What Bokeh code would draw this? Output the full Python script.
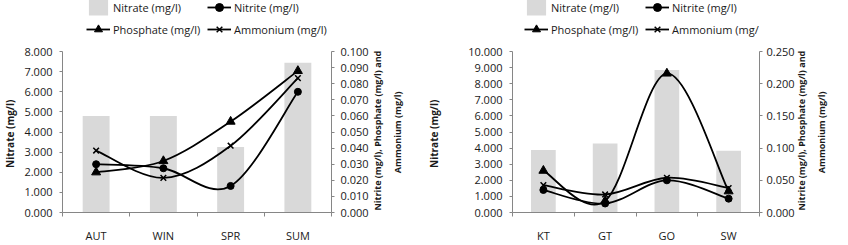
import numpy as np
from bokeh.plotting import figure
from bokeh.models import (Range1d, LinearAxis, FixedTicker, NumeralTickFormatter,
                          Legend, LegendItem, ColumnDataSource)
from bokeh.layouts import row
from bokeh.embed import file_html
from bokeh.resources import INLINE

# ---- data ----
seasons = ["AUT", "WIN", "SPR", "SUM"]
season_nitrate = [4.80, 4.80, 3.25, 7.45]
season_nitrite = [0.030, 0.0275, 0.0165, 0.075]
season_phosphate = [0.025, 0.032, 0.0565, 0.088]
season_ammonium = [0.0385, 0.0215, 0.0415, 0.0835]

sites = ["KT", "GT", "GO", "SW"]
site_nitrate = [3.88, 4.28, 8.85, 3.83]
site_nitrite = [0.035, 0.014, 0.050, 0.0215]
site_phosphate = [0.065, 0.018, 0.216, 0.033]
site_ammonium = [0.0425, 0.028, 0.054, 0.038]

FONT = "Open Sans"
TXT = "#1a1a1a"
AX = "#868686"
BAR = "#d9d9d9"
NB = "\u00a0"

PLOT_H = 245
BOTTOM = 25
AXIS_TOP = 53


def smooth_bezier(xs, ys):
    """Excel-like smoothed line: Catmull-Rom segments as cubic Beziers."""
    xs = list(xs); ys = list(ys)
    n = len(xs)
    d = dict(x0=[], y0=[], x1=[], y1=[], cx0=[], cy0=[], cx1=[], cy1=[])
    for i in range(n - 1):
        xp, yp = (xs[i - 1], ys[i - 1]) if i > 0 else (xs[i], ys[i])
        xn, yn = (xs[i + 2], ys[i + 2]) if i + 2 < n else (xs[i + 1], ys[i + 1])
        d["x0"].append(xs[i]); d["y0"].append(ys[i])
        d["x1"].append(xs[i + 1]); d["y1"].append(ys[i + 1])
        d["cx0"].append(xs[i] + (xs[i + 1] - xp) / 6)
        d["cy0"].append(ys[i] + (ys[i + 1] - yp) / 6)
        d["cx1"].append(xs[i + 1] - (xn - xs[i]) / 6)
        d["cy1"].append(ys[i + 1] - (yn - ys[i]) / 6)
    return ColumnDataSource(d)


def make_chart(cats, nitrate, nitrite, phosphate, ammonium, ymax_left, ymax_right,
               step_left, step_right, border_left, border_right, left_title_standoff,
               legend_x, right_label_standoff, title_standoff):
    frame_h = PLOT_H - BOTTOM
    axis_h = frame_h - AXIS_TOP
    stretch = frame_h / axis_h
    p = figure(width=424, height=PLOT_H, output_backend="svg", toolbar_location=None,
               x_range=Range1d(0.5, len(cats) + 0.5),
               y_range=Range1d(0, ymax_left * stretch),
               min_border_left=border_left, min_border_right=border_right,
               min_border_top=0, min_border_bottom=BOTTOM)
    p.outline_line_color = None
    p.xgrid.visible = False
    p.ygrid.visible = False
    p.background_fill_color = "white"
    p.border_fill_color = "white"
    p.extra_y_ranges = {"right": Range1d(0, ymax_right * stretch)}

    xs = list(range(1, len(cats) + 1))

    bars = p.vbar(x=xs, top=nitrate, width=0.4, fill_color=BAR, line_color=None)

    items = [LegendItem(label="Nitrate (mg/l)", renderers=[bars])]
    for label, vals, marker, size in [("Nitrite (mg/l)", nitrite, "circle", 7),
                                      ("Phosphate (mg/l)", phosphate, "triangle", 9),
                                      ("Ammonium (mg/l)", ammonium, "x", 8)]:
        src = smooth_bezier(xs, vals)
        ln = p.bezier(x0="x0", y0="y0", x1="x1", y1="y1", cx0="cx0", cy0="cy0",
                      cx1="cx1", cy1="cy1", source=src, line_color="black",
                      line_width=1.8, y_range_name="right")
        mk = p.scatter(x=xs, y=vals, marker=marker, size=size, fill_color="black",
                       line_color="black", line_width=1.5 if marker == "x" else 1,
                       y_range_name="right")
        items.append(LegendItem(label=label, renderers=[ln, mk]))

    # x axis: labels under categories, ticks between them
    xa = p.xaxis[0]
    xa.ticker = FixedTicker(ticks=xs, minor_ticks=[x - 0.5 for x in xs] + [xs[-1] + 0.5])
    xa.major_label_overrides = {x: c for x, c in zip(xs, cats)}
    xa.major_tick_line_color = None
    xa.minor_tick_line_color = AX
    xa.minor_tick_in = 0
    xa.minor_tick_out = 4
    xa.axis_line_color = AX
    xa.major_label_standoff = 9
    xa.major_label_text_font = FONT
    xa.major_label_text_font_size = "11px"
    xa.major_label_text_color = TXT

    # left axis
    ya = p.yaxis[0]
    nl = int(round(ymax_left / step_left))
    ya.ticker = FixedTicker(ticks=[i * step_left for i in range(nl + 1)])
    ya.bounds = (0, ymax_left)
    ya.formatter = NumeralTickFormatter(format="0.000")
    ya.minor_tick_line_color = None
    ya.major_tick_in = 0
    ya.major_tick_out = 3
    ya.major_tick_line_color = AX
    ya.axis_line_color = AX
    ya.major_label_standoff = 7
    ya.major_label_text_font = FONT
    ya.major_label_text_font_size = "11px"
    ya.major_label_text_color = TXT
    ya.axis_label = "Nitrate (mg/l)" + NB * 21
    ya.axis_label_text_font = FONT
    ya.axis_label_text_font_style = "bold"
    ya.axis_label_text_font_size = "10px"
    ya.axis_label_text_color = TXT
    ya.axis_label_standoff = left_title_standoff

    # right axis (values)
    nr = int(round(ymax_right / step_right))
    ra = LinearAxis(y_range_name="right",
                    ticker=FixedTicker(ticks=[i * step_right for i in range(nr + 1)]),
                    formatter=NumeralTickFormatter(format="0.000"),
                    bounds=(0, ymax_right))
    ra.minor_tick_line_color = None
    ra.major_tick_in = 0
    ra.major_tick_out = 3
    ra.major_tick_line_color = AX
    ra.axis_line_color = AX
    ra.major_label_standoff = right_label_standoff
    ra.major_label_text_font = FONT
    ra.major_label_text_font_size = "11px"
    ra.major_label_text_color = TXT
    p.add_layout(ra, "right")

    # right axis title, read bottom-to-top, starting near the axis foot
    t0 = round(ymax_right * 2 / axis_h, 6)
    ta = LinearAxis(y_range_name="right", ticker=FixedTicker(ticks=[t0]),
                    major_label_overrides={t0: "Nitrite (mg/l), Phosphate  (mg/l) and\n"
                                               + NB * 16 + "Ammonium (mg/l)"})
    ta.axis_line_color = None
    ta.major_tick_line_color = None
    ta.minor_tick_line_color = None
    ta.major_label_orientation = np.pi / 2
    ta.major_label_standoff = title_standoff
    ta.major_label_text_font = FONT
    ta.major_label_text_font_style = "bold"
    ta.major_label_text_font_size = "9px"
    ta.major_label_text_color = TXT
    ta.major_label_text_line_height = 1.6
    p.add_layout(ta, "right")

    legend = Legend(items=items, ncols=2, orientation="horizontal",
                    location=(legend_x, frame_h - 47),
                    glyph_width=24, glyph_height=20, label_height=20, label_width=92,
                    label_standoff=3, spacing=2, padding=0, margin=0,
                    border_line_color=None, background_fill_alpha=0,
                    label_text_font=FONT, label_text_font_size="11px",
                    label_text_color=TXT)
    p.add_layout(legend, "center")
    return p


p1 = make_chart(seasons, season_nitrate, season_nitrite, season_phosphate, season_ammonium,
                8, 0.1, 1, 0.01, 58, 84, 4, 24, 6, 10)
p2 = make_chart(sites, site_nitrate, site_nitrite, site_phosphate, site_ammonium,
                10, 0.25, 1, 0.05, 78, 69, 24, 12, 4, 8)

layout = row(p1, p2)
open("out.html", "w").write(file_html(layout, INLINE))
